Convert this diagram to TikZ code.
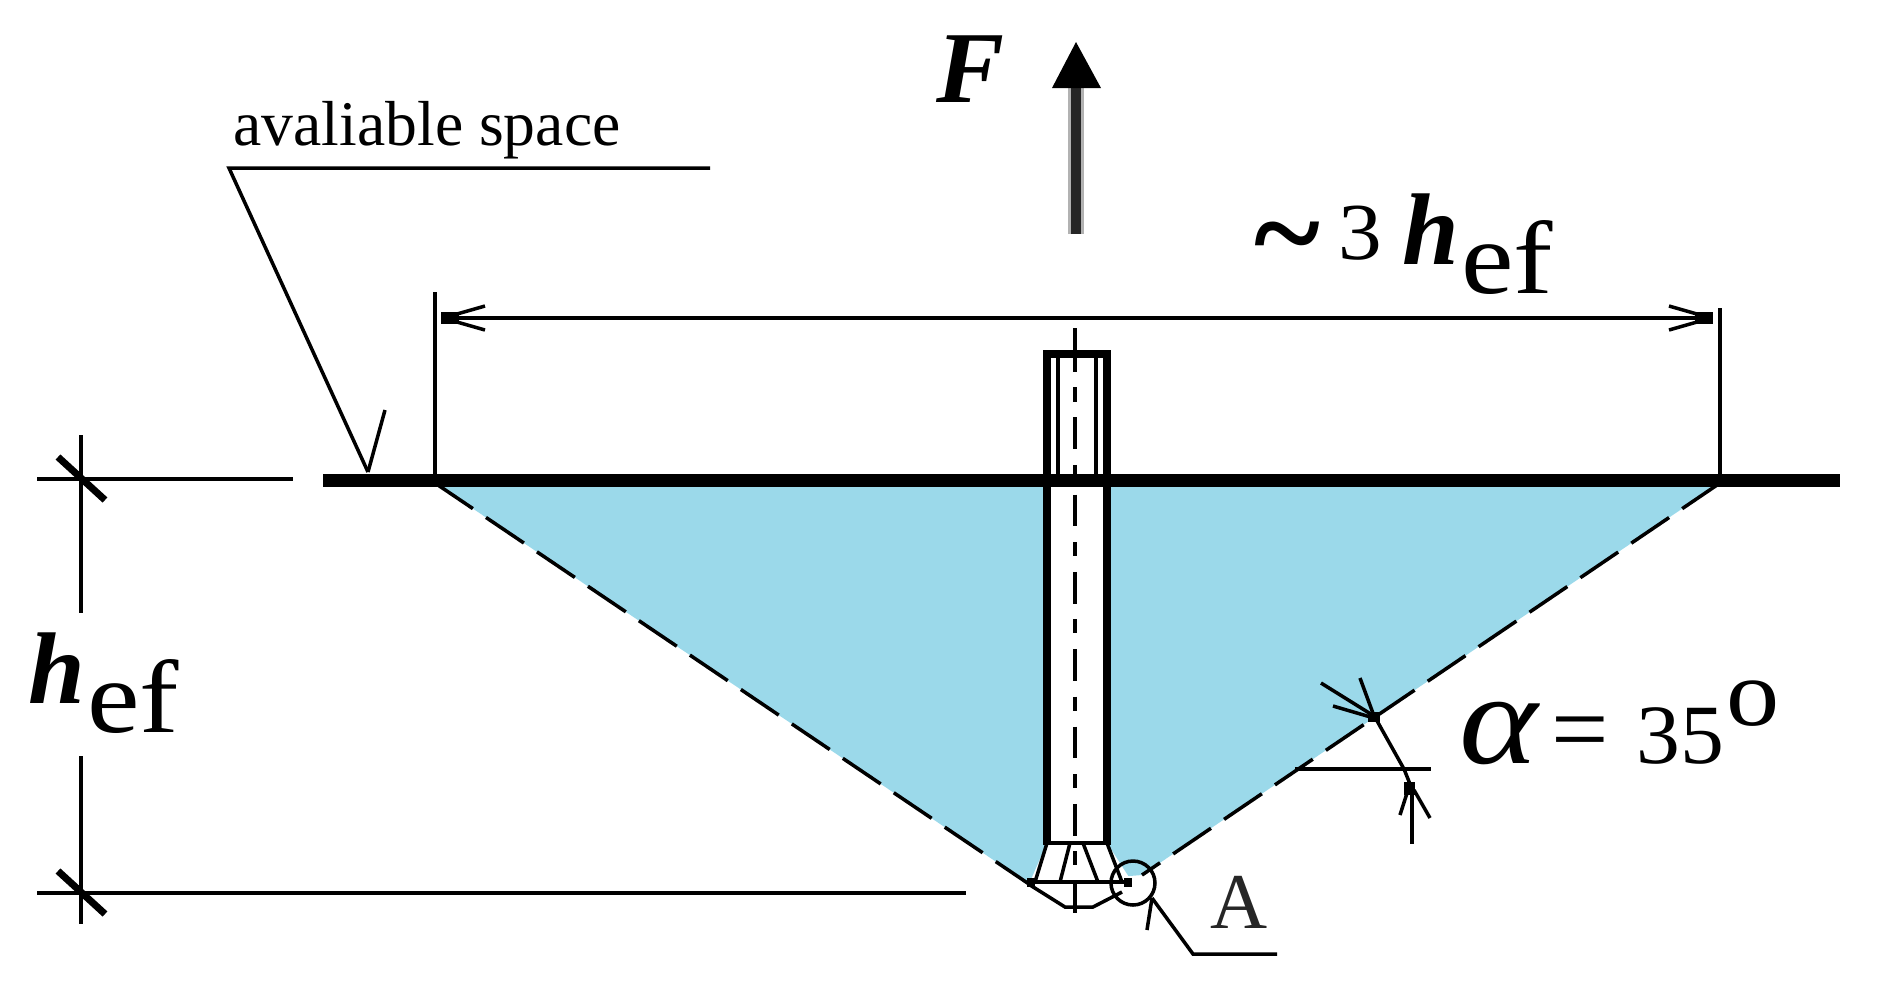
\documentclass[tikz,border=0pt]{standalone}
\usepackage{graphicx}
\usepackage{fontspec}
\setmainfont{Liberation Serif}
\definecolor{conebl}{HTML}{9BD9EA}
\newcommand{\labfont}[1]{\fontsize{#1}{#1}\selectfont}
\newcommand{\hefsub}{\raisebox{-8.3pt}{\labfont{29.5}\scalebox{1.14}[1]{ef}}}
\tikzset{
  thinln/.style={line width=1pt, black},
  wall/.style={line width=2.4pt, black},
  label/.style={inner sep=0pt, anchor=base west},
  coneedge/.style={line width=1pt, dash pattern=on 13pt off 4.5pt},
  centerln/.style={line width=1pt, dash pattern=on 9pt off 4.5pt on 4pt off 4.5pt},
  openhead/.pic={
    \fill (0,-6) rectangle (18,6);
    \draw[thinln] (16,-4) -- (44,-12);
    \draw[thinln] (16,4) -- (44,12);
  }
}
\begin{document}
\begin{tikzpicture}[x=0.1mm, y=-0.1mm]
  \useasboundingbox (0,0) rectangle (1882,982);

  % Cone corners
  \coordinate (coneL) at (435,483);
  \coordinate (coneR) at (1720,483);
  \coordinate (coneBL) at (1029,884);
  \coordinate (coneBR) at (1142,875);

  % Breakout cone
  \fill[conebl] (coneL) -- (coneBL) -- (coneBR) -- (coneR) -- cycle;
  \draw[coneedge] (coneL) -- (coneBL);
  \draw[coneedge] (coneR) -- (coneBR);

  % Bolt head
  \fill[white] (1047,843) -- (1107,843) -- (1132,882) -- (1125,892) -- (1093,907) -- (1065,907) -- (1030,888) -- (1030,882) -- cycle;
  \draw[thinln] (1047,843) -- (1035,882);
  \draw[thinln] (1107,843) -- (1122,882);
  \draw[thinln] (1070,843) -- (1060,882);
  \draw[thinln] (1083,843) -- (1098,882);
  \draw[line width=1.1pt] (1027,882) -- (1132,882);
  \draw[thinln] (1030,885) -- (1065,907) -- (1093,907) -- (1122,892);
  \fill (1027,878) rectangle (1035,887);
  \fill (1124,878) rectangle (1132,887);

  % Bolt shaft and thread end
  \fill[white] (1047,350) rectangle (1107,843);
  \draw[wall] (1047,843) -- (1047,354) -- (1107,354) -- (1107,843);
  \draw[thinln] (1043,843) -- (1111,843);
  \draw[thinln] (1058,354) -- (1058,480);
  \draw[thinln] (1096,354) -- (1096,480);
  \draw[thinln] (1075,328) -- (1075,350);
  \draw[centerln] (1075,340) -- (1075,926);

  % Surface
  \draw[line width=3.7pt] (323,480) -- (1840,480);

  % Available space leader
  \coordinate (leadS) at (710,168);
  \coordinate (leadK) at (229,168);
  \coordinate (leadT) at (368,472);
  \draw[thinln] (leadS) -- (leadK) -- (leadT);
  \draw[thinln] (leadT) -- (385,410);
  \node[label] (txtspace) at (233,145) {\labfont{18.1}avaliable space};

  % Width dimension
  \coordinate (dimL) at (441,318);
  \coordinate (dimR) at (1713,318);
  \draw[thinln] (435,292) -- (435,480);
  \draw[thinln] (1720,308) -- (1720,480);
  \draw[thinln] (dimL) -- (dimR);
  \pic at (dimL) {openhead};
  \pic[rotate=180] at (dimR) {openhead};
  \node[label] (txtwidth) at (1254,264) {{\labfont{36}\bfseries \raisebox{-3.3pt}{\char`~}}\hspace{5pt}{\labfont{23}\raisebox{1.4pt}{\scalebox{1.08}[1]{3}}}\hspace{6pt}{\labfont{29}\bfseries\itshape h}\hspace{0.5pt}\hefsub};

  % Height dimension
  \coordinate (hT) at (81,479);
  \coordinate (hB) at (81,893);
  \draw[thinln] (37,479) -- (293,479);
  \draw[thinln] (37,893) -- (966,893);
  \draw[thinln] (81,435) -- (81,613);
  \draw[thinln] (81,756) -- (81,924);
  \foreach \pnt in {hT,hB} {
    \draw[line width=2pt] ([shift={(-23,-22)}]\pnt) -- ([shift={(24,21)}]\pnt);
  }
  \node[label] (txthef) at (28,703) {{\labfont{29}\bfseries\itshape h}\hspace{0.5pt}\hefsub};

  % Force arrow
  \coordinate (forceA) at (1076,234);
  \coordinate (forceB) at (1076,85);
  \draw[line width=4.6pt, gray!60] (forceA) -- (forceB);
  \draw[line width=2.8pt, black!85] (forceA) -- (forceB);
  \fill (1052,88) -- (1076,42) -- (1101,88) -- cycle;
  \node[label] (txtF) at (936,102) {\labfont{29}\bfseries\itshape F};

  % Angle
  \coordinate (angL) at (1295,769);
  \coordinate (angR) at (1431,769);
  \coordinate (angU) at (1376,719);
  \coordinate (angD) at (1410,784);
  \draw[thinln] (angL) -- (angR);
  \draw[thinln] (angU) -- (1404,769) -- (angD);
  \draw[thinln] (1412,784) -- (1412,844);
  \draw[thinln] (1408,790) -- (1400,815);
  \draw[thinln] (1414,790) -- (1430,818);
  \fill (1404,782) rectangle (1415,795);
  \fill (1368,712) rectangle (1380,722);
  \draw[thinln] (1374,716) -- (1360,678);
  \draw[thinln] (1374,716) -- (1321,683);
  \draw[thinln] (1374,718) -- (1333,706);
  \node[label] (txtalpha) at (1459,763) {{\labfont{37}\itshape\scalebox{1.15}[1]{α}}\hspace{3.7pt}{\labfont{29}=}\hspace{8pt}{\labfont{24}\scalebox{1.04}[1]{35}}\hspace{0.5pt}\raisebox{10.8pt}{\labfont{27}\scalebox{1.12}[1]{o}}};

  % Detail A
  \coordinate (detC) at (1133,883);
  \draw[thinln] (detC) circle (22);
  \coordinate (leadA) at (1193,954);
  \coordinate (leadB) at (1277,954);
  \draw[thinln] (1152,898) -- (leadA) -- (leadB);
  \draw[thinln] (1152,898) -- (1147,930);
  \node[label, black!85] (txtA) at (1210,928) {\labfont{22.5}A};
\end{tikzpicture}
\end{document}
